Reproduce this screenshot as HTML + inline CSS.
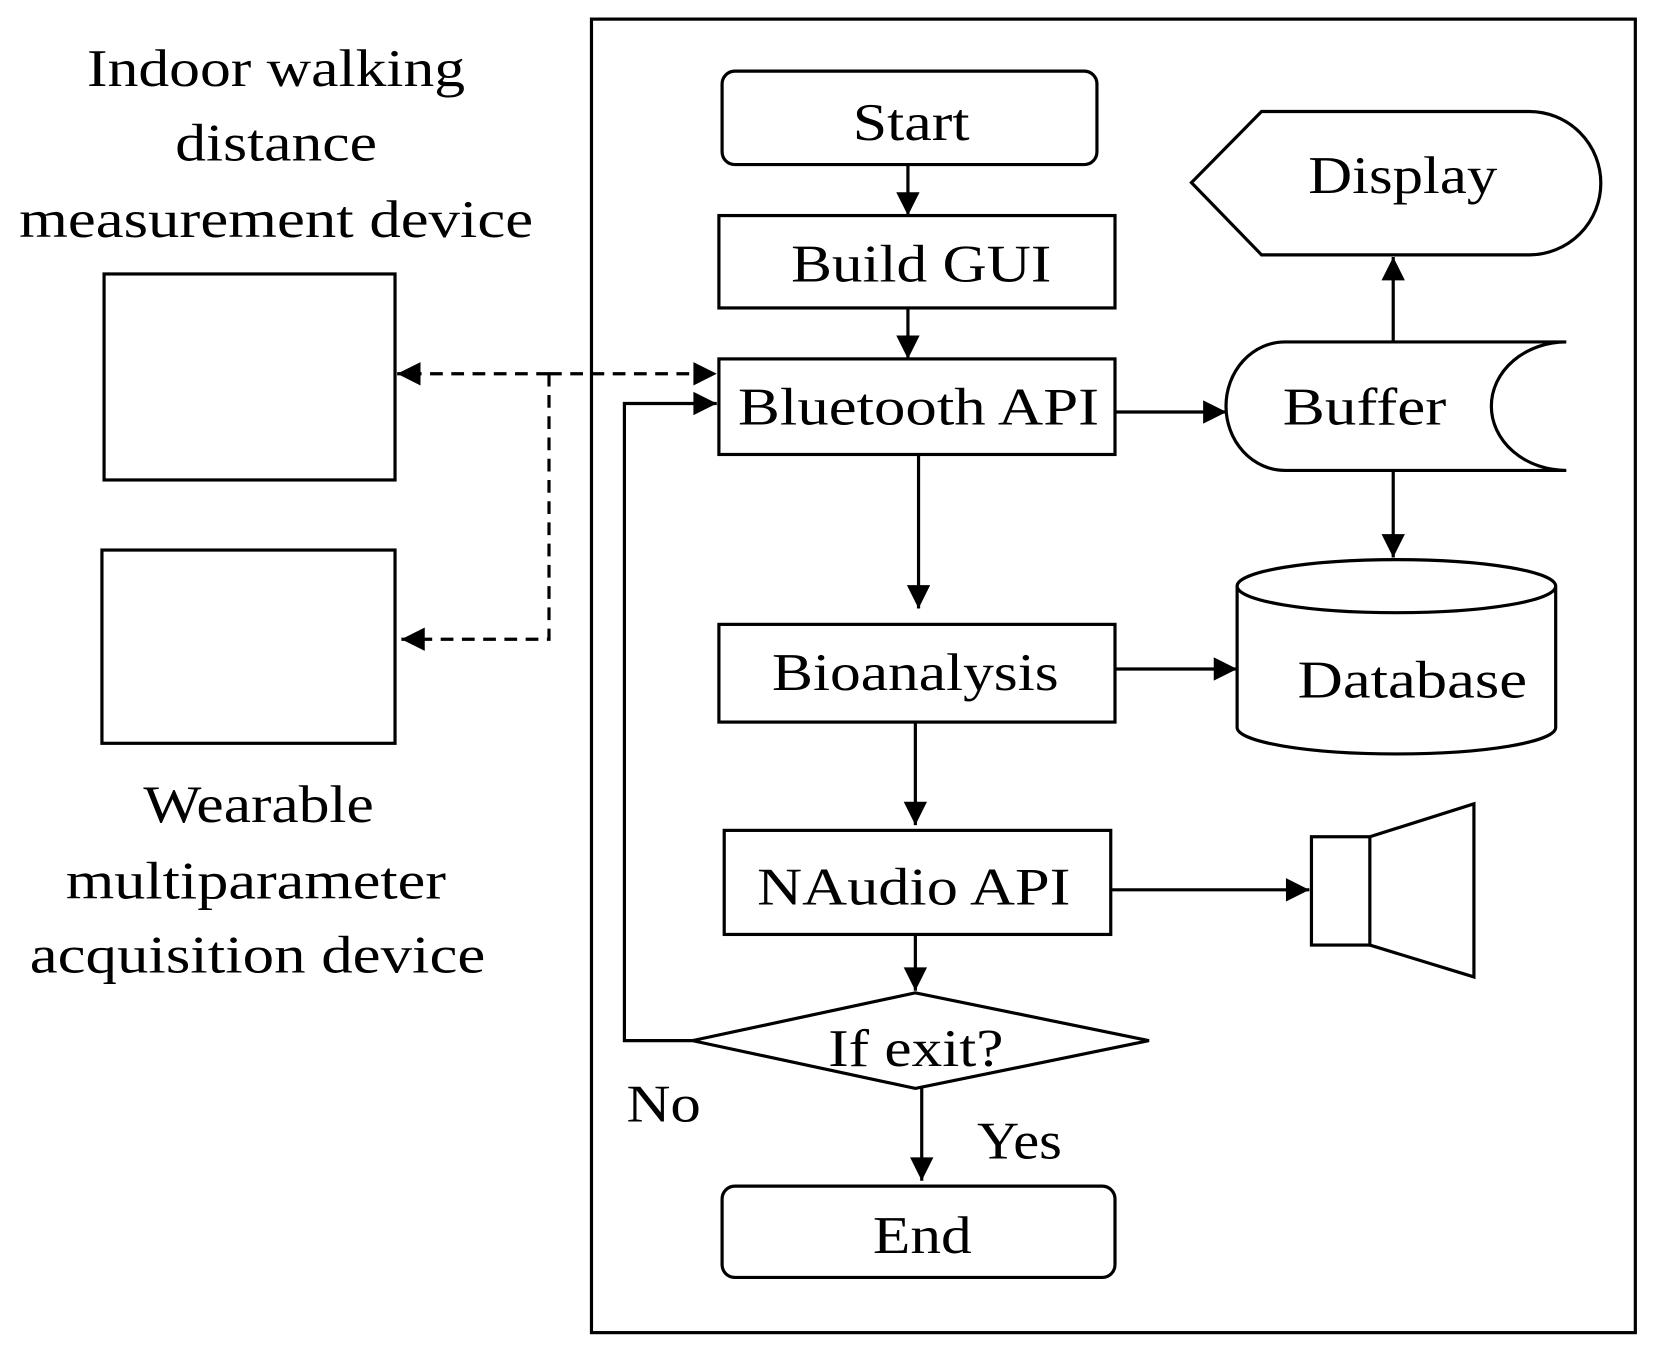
<!DOCTYPE html>
<html><head><style>html,body{margin:0;padding:0;background:#fff}svg{display:block}</style></head><body>
<svg width="1664" height="1356" viewBox="0 0 1567 1277" preserveAspectRatio="none" xmlns="http://www.w3.org/2000/svg">
<defs>
<marker id="b" viewBox="0 0 10 10" refX="10" refY="5" markerWidth="24" markerHeight="22" markerUnits="userSpaceOnUse" orient="auto"><path d="M0,0L10,5L0,10z" fill="#000"/></marker></defs>
<g fill="none" stroke="#000" stroke-width="3">
<rect x="557" y="18" width="983" height="1237"/>
<rect x="680" y="67" width="353" height="88" rx="12"/>
<rect x="677" y="203" width="373" height="87"/>
<rect x="677" y="338" width="373" height="90"/>
<rect x="677" y="588" width="373" height="92"/>
<rect x="682" y="782" width="364" height="98"/>
<path d="M652,980L862,935L1082,980L862,1025Z"/>
<rect x="680" y="1117" width="370" height="86" rx="12"/>
<rect x="98" y="258" width="274" height="194"/>
<rect x="96" y="518" width="276" height="182"/>
<path d="M1122,172L1188,105H1440A67,67 0 0 1 1440,240H1188Z"/>
<path d="M1475,322H1210A55,60 0 0 0 1210,443H1475A70,60 0 0 1 1475,322"/>
<path d="M1165,552V685A150,25 0 0 0 1465,685V552A150,25 0 0 0 1165,552A150,25 0 0 0 1465,552"/>
<rect x="1235" y="788" width="55" height="102"/>
<path d="M1290,788L1388,757V920L1290,890"/>
</g>
<g stroke="#000" stroke-width="3" fill="none" marker-end="url(#b)">
<path d="M855,155V203"/><path d="M855,290V338"/><path d="M865,428V573"/>
<path d="M862,680V777"/><path d="M862,880V933"/><path d="M868,1025V1112"/>
<path d="M652,980H588V380H675"/>
<path d="M1050,388H1155"/><path d="M1312,322V242"/><path d="M1312,443V525"/>
<path d="M1050,630H1165"/><path d="M1046,838H1233"/>
</g>
<g stroke="#000" stroke-width="3" fill="none" stroke-dasharray="12,8">
<path d="M517,352H675" marker-end="url(#b)"/>
<path d="M517,352H374" marker-end="url(#b)"/>
<path d="M517,352V602H378" marker-end="url(#b)"/>
</g>
<g font-family="Liberation Serif, serif" font-size="50" fill="#000" lengthAdjust="spacingAndGlyphs">
<text x="803" y="132" textLength="110" lengthAdjust="spacingAndGlyphs">Start</text>
<text x="745" y="265" textLength="245" lengthAdjust="spacingAndGlyphs">Build GUI</text>
<text x="695" y="400" textLength="340" lengthAdjust="spacingAndGlyphs">Bluetooth API</text>
<text x="727" y="650" textLength="270" lengthAdjust="spacingAndGlyphs">Bioanalysis</text>
<text x="713" y="852" textLength="295" lengthAdjust="spacingAndGlyphs">NAudio API</text>
<text x="780" y="1004" textLength="165" lengthAdjust="spacingAndGlyphs">If exit?</text>
<text x="822" y="1180" textLength="93" lengthAdjust="spacingAndGlyphs">End</text>
<text x="1232" y="182" textLength="178" lengthAdjust="spacingAndGlyphs">Display</text>
<text x="1208" y="400" textLength="154" lengthAdjust="spacingAndGlyphs">Buffer</text>
<text x="1222" y="657" textLength="216" lengthAdjust="spacingAndGlyphs">Database</text>
<text x="590" y="1056" textLength="70" lengthAdjust="spacingAndGlyphs">No</text>
<text x="920" y="1091" textLength="80" lengthAdjust="spacingAndGlyphs">Yes</text>
<text x="82" y="81" textLength="356" lengthAdjust="spacingAndGlyphs">Indoor walking</text>
<text x="165" y="151" textLength="190" lengthAdjust="spacingAndGlyphs">distance</text>
<text x="18" y="223" textLength="484" lengthAdjust="spacingAndGlyphs">measurement device</text>
<text x="135" y="774" textLength="217" lengthAdjust="spacingAndGlyphs">Wearable</text>
<text x="62" y="846" textLength="358" lengthAdjust="spacingAndGlyphs">multiparameter</text>
<text x="28" y="916" textLength="429" lengthAdjust="spacingAndGlyphs">acquisition device</text>
</g>
</svg>
</body></html>
